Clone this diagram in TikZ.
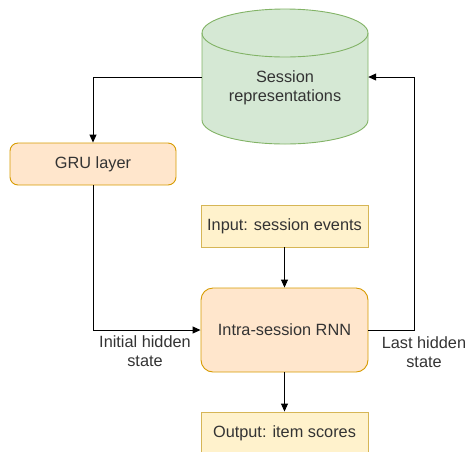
\documentclass[tikz,border=0pt]{standalone}
\usepackage{fontspec}
\setmainfont{Liberation Sans}
\usetikzlibrary{arrows.meta}
\definecolor{cylfill}{HTML}{D5E8D4}
\definecolor{cylline}{HTML}{82B366}
\definecolor{orfill}{HTML}{FFE6CC}
\definecolor{orline}{HTML}{D79B00}
\definecolor{yefill}{HTML}{FFF2CC}
\definecolor{yeline}{HTML}{D6B656}
\definecolor{txt}{HTML}{333333}
\tikzset{
  every node/.style={font=\fontsize{16.3}{19}\selectfont, text=txt},
  procbox/.style={draw=orline, fill=orfill, rounded corners=8pt, line width=0.9pt, align=center, inner sep=0pt},
  iobox/.style={draw=yeline, fill=yefill, line width=0.9pt, align=center, inner sep=0pt},
  cylbody/.style={draw=cylline, fill=cylfill, line width=0.9pt},
  link/.style={draw=black, line width=0.9pt, -{Triangle[length=8pt,width=7pt]}},
  lbl/.style={align=center, inner sep=0pt}
}
\begin{document}
\begin{tikzpicture}[x=1pt,y=-1pt]
  \useasboundingbox (0,0) rectangle (468,451);
  % storage cylinder: body with the lower rim, then the top face
  \path[cylbody] (202,33) -- (202,120) arc[start angle=180, end angle=360, x radius=83pt, y radius=24pt]
    -- (368,33) arc[start angle=0, end angle=180, x radius=83pt, y radius=24pt] -- cycle;
  \draw[cylline, line width=0.9pt] (202,33) arc[start angle=180, end angle=360, x radius=83pt, y radius=24pt];
  \node[align=center, minimum width=166pt, inner sep=0pt] (store) at (285,88) {Session\\representations};
  \node[procbox, minimum width=166pt, minimum height=42pt] (gru) at (93,164) {GRU layer};
  \node[iobox, minimum width=167pt, minimum height=42pt] (input) at (284.5,226) {Input: session events};
  \node[procbox, minimum width=167pt, minimum height=84pt, rounded corners=12pt] (rnn) at (284.5,330) {Intra-session RNN};
  \node[iobox, minimum width=167pt, minimum height=42pt] (output) at (284.5,433) {Output: item scores};
  \coordinate (topleft) at (93,77);
  \coordinate (botleft) at (93,330);
  \coordinate (botright) at (414,330);
  \coordinate (topright) at (414,77);
  \draw[link] (store.west |- topleft) -- (topleft) -- (gru.north);
  \draw[link] (gru.south) -- (botleft) -- (rnn.west);
  \draw[link] (input.south) -- (rnn.north);
  \draw[link] (rnn.south) -- (output.north);
  \draw[link] (rnn.east) -- (botright) -- (topright) -- (store.east |- topright);
  \node[lbl] (initlbl) at (145,351) {Initial hidden\\state};
  \node[lbl] (lastlbl) at (424,352) {Last hidden\\state};
\end{tikzpicture}
\end{document}
